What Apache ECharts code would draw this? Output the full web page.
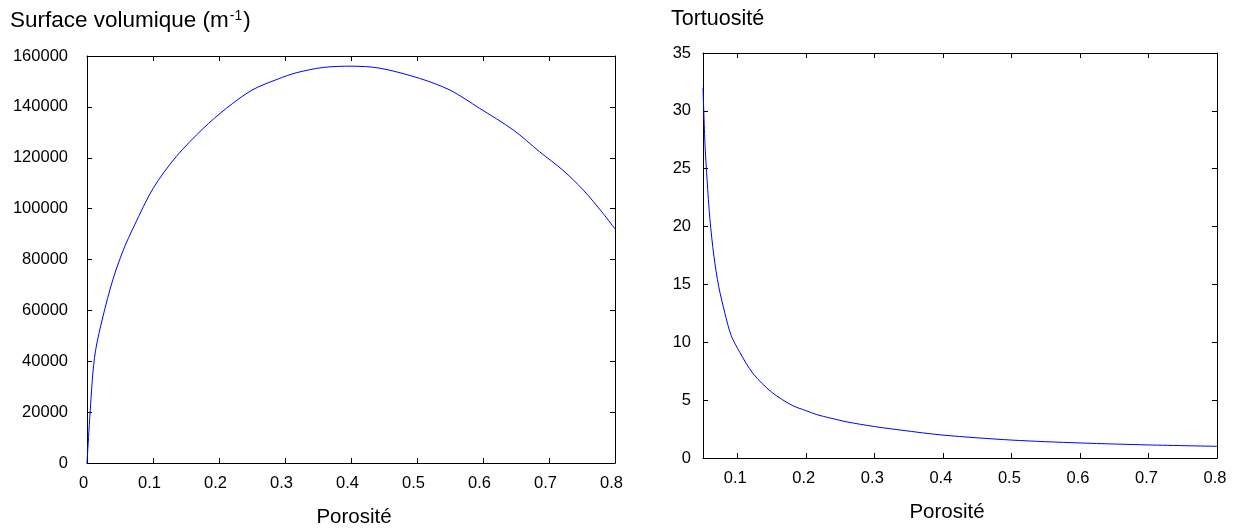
<!DOCTYPE html>
<html>
<head>
<meta charset="utf-8">
<script src="https://cdn.jsdelivr.net/npm/echarts@6/dist/echarts.min.js"></script>
<style>
html,body{margin:0;padding:0;background:#fff;}
#c{width:1238px;height:529px;}
</style>
</head>
<body>
<div id="c"></div>
<script>
// ---- Data ----
// Left panel: Surface volumique (m^-1) vs Porosité
var surfPorosity = [0, 0.008, 0.013, 0.024, 0.039, 0.055, 0.072, 0.10, 0.135, 0.176, 0.211, 0.25, 0.29, 0.317, 0.358, 0.40, 0.444, 0.504, 0.55, 0.595, 0.646, 0.686, 0.721, 0.752, 0.782, 0.80];
var surfValues   = [0, 32500, 44300, 57400, 71900, 83700, 93500, 107900, 120400, 131500, 139400, 146600, 151000, 153400, 155500, 156000, 155200, 151200, 146600, 139400, 130900, 122300, 115100, 107300, 98100, 92000];
// Right panel: Tortuosité vs Porosité
var tortPorosity = [0.05, 0.053, 0.056, 0.060, 0.066, 0.073, 0.082, 0.091, 0.104, 0.123, 0.15, 0.18, 0.20, 0.216, 0.236, 0.26, 0.30, 0.34, 0.40, 0.50, 0.60, 0.70, 0.80];
var tortValues   = [32.0, 27.0, 24.0, 20.7, 17.4, 14.8, 12.5, 10.6, 9.1, 7.3, 5.7, 4.55, 4.1, 3.75, 3.45, 3.12, 2.72, 2.40, 1.98, 1.55, 1.30, 1.13, 1.01];
// Tick labels
var leftXTicks  = [0, 0.1, 0.2, 0.3, 0.4, 0.5, 0.6, 0.7, 0.8];
var rightXTicks = [0.1, 0.2, 0.3, 0.4, 0.5, 0.6, 0.7, 0.8];
var leftTitle = 'Surface volumique (m';
var rightTitle = 'Tortuosité';
var xName = 'Porosité';

function pairs(xs, ys){ return xs.map(function(x,i){ return [x, ys[i]]; }); }

var FONT = '"Liberation Sans", Arial, sans-serif';
var tickFs = 16.5;
var lineStyle = {color:'#000', width:1};
function plain(v){ return String(Math.round(v*1000)/1000); }

function mainX(gi, min, max, interval, custom, padR){
  var o = {
    type:'value', gridIndex:gi, min:min, max:max, position:'bottom',
    axisLine:{show:true, onZero:false, lineStyle:lineStyle},
    axisTick:{show:true, inside:true, length:5, lineStyle:lineStyle},
    axisLabel:{show:true, color:'#000', fontFamily:FONT, fontSize:tickFs, margin:12, padding:[0,padR,0,0],
      formatter:plain},
    splitLine:{show:false}
  };
  if (custom){ o.axisTick.customValues = custom; o.axisLabel.customValues = custom; }
  else { o.interval = interval; }
  return o;
}
function topX(gi, min, max, interval, custom){
  var o = {
    type:'value', gridIndex:gi, min:min, max:max, position:'top',
    axisLine:{show:true, onZero:false, lineStyle:lineStyle},
    axisTick:{show:true, inside:true, length:5, lineStyle:lineStyle},
    axisLabel:{show:false}, splitLine:{show:false}
  };
  if (custom){ o.axisTick.customValues = custom; o.axisLabel.customValues = custom; }
  else { o.interval = interval; }
  return o;
}
function mainY(gi, min, max, interval, margin){
  return {
    type:'value', gridIndex:gi, min:min, max:max, interval:interval, position:'left',
    axisLine:{show:true, onZero:false, lineStyle:lineStyle},
    axisTick:{show:true, inside:true, length:5, lineStyle:lineStyle},
    axisLabel:{show:true, color:'#000', fontFamily:FONT, fontSize:tickFs, margin:margin, formatter:plain},
    splitLine:{show:false}
  };
}
function rightY(gi, min, max, interval){
  return {
    type:'value', gridIndex:gi, min:min, max:max, interval:interval, position:'right',
    axisLine:{show:true, onZero:false, lineStyle:lineStyle},
    axisTick:{show:true, inside:true, length:5, lineStyle:lineStyle},
    axisLabel:{show:false}, splitLine:{show:false}
  };
}

var chart = echarts.init(document.getElementById('c'), null, {renderer:'canvas'});
chart.setOption({
  backgroundColor:'#fff',
  animation:false,
  title:[
    {text: leftTitle + '{sup|-1}){end|}', left:10, top:9, padding:0,
      textStyle:{color:'#000', fontFamily:FONT, fontSize:22.5, fontWeight:'normal',
        rich:{sup:{fontSize:14, fontFamily:FONT, color:'#000', verticalAlign:'top', padding:[0,1,9,1]}, end:{fontSize:22.5}}}},
    {text: rightTitle, left:671, top:8, padding:0,
      textStyle:{color:'#000', fontFamily:FONT, fontSize:21.5, fontWeight:'normal'}}
  ],
  graphic:[
    {type:'text', style:{text:xName, x:354, y:517, align:'center', verticalAlign:'middle', font:'20.5px ' + FONT, fill:'#000'}},
    {type:'text', style:{text:xName, x:947, y:512, align:'center', verticalAlign:'middle', font:'20.5px ' + FONT, fill:'#000'}}
  ],
  grid:[
    {left:87, top:56, width:528, height:407, containLabel:false},
    {left:703, top:53, width:514, height:405, containLabel:false}
  ],
  xAxis:[
    mainX(0, 0, 0.8, 0.1, null, 7),
    topX(0, 0, 0.8, 0.1, null),
    mainX(1, 0.05, 0.8, null, rightXTicks, 4),
    topX(1, 0.05, 0.8, null, rightXTicks)
  ],
  yAxis:[
    mainY(0, 0, 160000, 20000, 19),
    rightY(0, 0, 160000, 20000),
    mainY(1, 0, 35, 5, 12),
    rightY(1, 0, 35, 5)
  ],
  series:[
    {type:'line', xAxisIndex:0, yAxisIndex:0, data:pairs(surfPorosity, surfValues), showSymbol:false, symbol:'none',
      lineStyle:{color:'#0000ff', width:1}, smooth:0.3, clip:true},
    {type:'line', xAxisIndex:2, yAxisIndex:2, data:pairs(tortPorosity, tortValues), showSymbol:false, symbol:'none',
      lineStyle:{color:'#0000ff', width:1}, smooth:0.3, clip:true}
  ]
});
</script>
</body>
</html>
